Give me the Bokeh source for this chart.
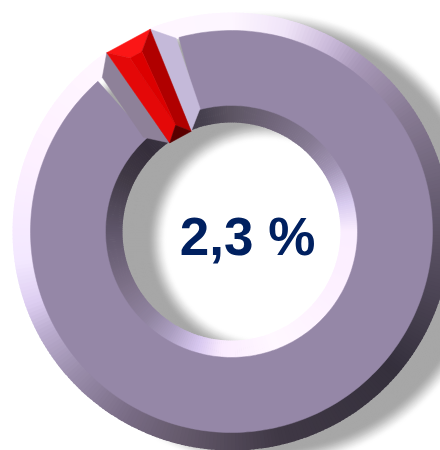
import math
import numpy as np
from bokeh.plotting import figure
from bokeh.embed import file_html
from bokeh.resources import INLINE
from bokeh.core.properties import value

labels = ["Highlighted", "Rest"]
shares = [2.3, 97.7]
center_label = "2,3 %"

W, H = 440, 450
CX, CY = 231, 231
R_OUT, R_FACE, R_FACE_IN, R_IN = 219, 201, 126, 109
MID = 28.4          # degrees left of 12 o'clock where the slice is centred
half = shares[0] * 3.6 / 2
FACE = "#9587a7"

p = figure(width=W, height=H, x_range=(0, W), y_range=(0, H),
           output_backend="svg", toolbar_location=None, min_border=0, outline_line_color=None,
           background_fill_color="white", border_fill_color="white")
p.axis.visible = False
p.grid.visible = False

def Y(y): return H - y

def pol(r, a):
    """a in degrees counter-clockwise from 12 o'clock"""
    t = math.radians(a)
    return CX - r * math.sin(t), CY - r * math.cos(t)

def poly(pts, color):
    xs = [q[0] for q in pts]
    ys = [Y(q[1]) for q in pts]
    p.patch(xs, ys, fill_color=color, line_color=color, line_width=0.5)

def lerp_stops(a, stops):
    a = a % 360
    for (a0, c0), (a1, c1) in zip(stops, stops[1:]):
        if a0 <= a <= a1:
            f = (a - a0) / (a1 - a0)
            rgb = [int(round(c0[i] + (c1[i] - c0[i]) * f)) for i in range(3)]
            return "#%02x%02x%02x" % tuple(rgb)
    return "#000000"

def h(c):
    return tuple(int(c[i:i + 2], 16) for i in (1, 3, 5))

# clockwise compass angle -> colour
outer_stops = [(a, h(c)) for a, c in [
    (0, "#fdf6ff"), (15, "#f0e4f8"), (28, "#c8b8d8"), (37, "#a898b8"), (56, "#877a93"),
    (90, "#5c5366"), (130, "#35303c"), (167, "#3f3845"), (194, "#655a6c"), (209, "#786b84"),
    (228, "#9a8dab"), (242, "#bcaed0"), (250, "#dccdf0"), (262, "#f3e8ff"), (290, "#fdf0ff"),
    (320, "#fff6ff"), (360, "#fdf6ff")]]
inner_stops = [(a, h(c)) for a, c in [
    (0, "#5d5563"), (18, "#6e6478"), (41, "#867a93"), (58, "#a295b5"), (76, "#d8cbef"),
    (90, "#fbeeff"), (120, "#fdf0ff"), (159, "#fff8ff"), (185, "#fbecff"), (196, "#d8c8f0"),
    (211, "#ab9ec0"), (224, "#9084a0"), (243, "#7d7088"), (270, "#5f566a"), (297, "#403945"),
    (315, "#352e3b"), (346, "#46404e"), (360, "#5d5563")]]

# soft drop shadow: painted largest first
SX, SY = CX + 34, CY + 8
S_OUT, S_IN, BL = 220, 109, 10
radii = np.arange(S_OUT + BL, S_IN - BL - 1, -1.0)
def shade(r):
    if r > S_IN + BL:
        f = min(1, max(0, (S_OUT + BL - r) / (2 * BL)))
    else:
        f = min(1, max(0, (r - (S_IN - BL)) / (2 * BL)))
    f = f * f * (3 - 2 * f)
    v = int(round(255 - (255 - 167) * f))
    return "#%02x%02x%02x" % (v, v, v)
p.circle(x=[SX] * len(radii), y=[Y(SY)] * len(radii), radius=list(radii),
         fill_color=[shade(r) for r in radii], line_color=None)

# bevels, one degree at a time, clipped exactly at the slice
a_l = MID + half * 1.57
a_r = MID - half * 1.57
def ring(r0, r1, stops):
    xs, ys, ir, orr, st, en, col = [], [], [], [], [], [], []
    for c in np.arange(0, 360, 1.0):     # compass clockwise
        end_c = c + 1.3
        gap0, gap1 = 360 - a_l, 360 - a_r
        if c >= gap0 and end_c <= gap1:
            continue
        if c < gap0 < end_c:
            end_c = gap0
        if c < gap1 < end_c or (c >= gap0 and c < gap1):
            c = gap1
        xs.append(CX); ys.append(Y(CY)); ir.append(r0); orr.append(r1)
        st.append(math.radians(90 - end_c)); en.append(math.radians(90 - c))
        col.append(lerp_stops(c + 0.5, stops))
    p.annular_wedge(x=xs, y=ys, inner_radius=ir, outer_radius=orr, start_angle=st, end_angle=en,
                    fill_color=col, line_color=None)

ring(R_FACE - 1, R_OUT, outer_stops)
ring(R_IN, R_FACE_IN + 1, inner_stops)

# flat face, around the notch
lo, hi = MID - half * 3.2, MID + half * 3.2
angs = np.linspace(hi, lo + 360, 260)
pts = [pol(R_FACE, a) for a in angs] + [pol(R_FACE_IN, a) for a in angs[::-1]]
poly(pts, FACE)

# notch walls of the ring
poly([pol(R_OUT - 1, a_l), pol(R_FACE, MID + half * 2.8), pol(R_FACE_IN + 3, MID + half * 3.55), pol(R_IN - 1, a_l)], "#8e8199")
poly([pol(R_OUT - 1, a_r), pol(R_FACE, MID - half * 3.0), pol(R_FACE_IN + 1, MID - half * 3.4), pol(R_IN - 1, a_r)], "#c4b9d9")

# red slice
o_l, o_r = pol(R_OUT - 1, a_l), pol(R_OUT - 1, a_r)
f_l, f_r = pol(R_FACE, MID + half * 0.47), pol(R_FACE, MID - half * 0.47)
apex = pol(R_FACE_IN - 6, MID - half * 0.15)
i_l, i_r = pol(R_IN - 1, a_l), pol(R_IN - 1, a_r)
poly([o_l, o_r, f_r, f_l], "#fb1616")
poly([o_r, f_r, apex, i_r], "#b00000")
poly([o_l, f_l, apex, i_l], "#e40808")
poly([f_l, f_r, apex], "#dc0000")
poly([apex, i_r, i_l], "#5a0000")

p.text(x=[247], y=[Y(236)], text=[center_label], text_align="center", text_baseline="middle",
       text_font=value("Liberation Sans"), text_font_style="bold", text_font_size="53px",
       text_color="#002060")

open("out.html", "w").write(file_html(p, INLINE))
